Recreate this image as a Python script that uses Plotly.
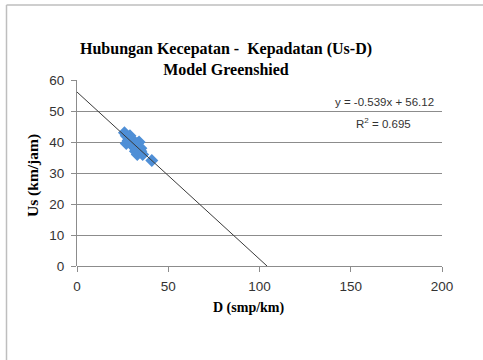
import plotly.graph_objects as go

# Observed density (smp/km) and space-mean speed (km/jam)
density = [26, 27, 28, 27, 29, 30, 31, 30, 32, 33, 34, 35, 33, 35, 41, 36, 29, 32, 28]
speed = [43, 42, 41.5, 39.5, 40, 41, 40, 39, 38, 39.5, 40, 38, 36, 37, 34, 36, 42, 37, 40.5]

# Greenshields linear fit
slope = -0.539
intercept = 56.12
r2 = 0.695
fit_x = [0, -intercept / slope]
fit_y = [slope * x + intercept for x in fit_x]

x_ticks = [0, 50, 100, 150, 200]
y_ticks = [0, 10, 20, 30, 40, 50, 60]

W, H = 483, 360
L, R, T, B = 77, 41, 80, 94
pw, ph = W - L - R, H - T - B


def px(x):
    return (x - L) / pw


def py(y):
    return (H - B - y) / ph


tick_font = dict(family="Liberation Sans Narrow, Liberation Sans, Arial", size=13.5, color="#333333")
eq_font = dict(family="Liberation Sans Narrow, Liberation Sans, Arial", size=11.5, color="#333333")
serif = "Liberation Serif, Times New Roman, serif"

fig = go.Figure()
fig.add_trace(go.Scatter(
    x=density, y=speed, mode="markers",
    marker=dict(symbol="diamond", size=10, color="#4F8FD6", line=dict(width=0)),
    showlegend=False, hoverinfo="skip",
))
fig.add_trace(go.Scatter(
    x=fit_x, y=fit_y, mode="lines",
    line=dict(color="#3a3a3a", width=1),
    showlegend=False, hoverinfo="skip",
))

fig.update_layout(
    width=W, height=H,
    margin=dict(l=L, r=R, t=T, b=B),
    paper_bgcolor="white", plot_bgcolor="white",
    title=dict(
        text="Hubungan Kecepatan -  Kepadatan (Us-D)<br>Model Greenshied",
        x=(px(80) + px(372)) / 2, xref="paper", xanchor="center",
        y=1 - 54 / H, yanchor="middle",
        font=dict(family=serif, size=16, color="black", weight="bold"),
    ),
    xaxis=dict(
        range=[0, 200], tickvals=x_ticks, showgrid=False, zeroline=False,
        showline=False, ticks="outside", ticklen=5, tickcolor="#8c8c8c",
        tickfont=tick_font, ticklabelstandoff=3,
    ),
    yaxis=dict(
        range=[0, 60], tickvals=y_ticks, showgrid=True, gridcolor="#8c8c8c", gridwidth=1,
        zeroline=True, zerolinecolor="#8c8c8c", zerolinewidth=1,
        showline=True, linecolor="#8c8c8c", linewidth=1,
        ticks="outside", ticklen=5, tickcolor="#8c8c8c", tickfont=tick_font,
        ticklabelstandoff=4,
    ),
    annotations=[
        dict(text="D (smp/km)", xref="paper", yref="paper",
             x=px(249), y=py(308), xanchor="center", yanchor="middle",
             showarrow=False, font=dict(family=serif, size=14, color="black", weight="bold")),
        dict(text="Us (km/jam)", xref="paper", yref="paper", textangle=-90,
             x=px(33), y=py(176), xanchor="center", yanchor="middle",
             showarrow=False, font=dict(family=serif, size=15.5, color="black", weight="bold")),
        dict(text="y = -0.539x + 56.12", xref="paper", yref="paper",
             x=px(436), y=py(102), xanchor="right", yanchor="middle",
             showarrow=False, font=eq_font),
        dict(text="R<sup>2</sup> = 0.695", xref="paper", yref="paper",
             x=px(383), y=py(123), xanchor="center", yanchor="middle",
             showarrow=False, font=eq_font),
    ],
    shapes=[
        dict(type="line", xref="paper", yref="paper", x0=px(6.5), x1=px(483), y0=py(5), y1=py(5),
             line=dict(color="#BEBEBE", width=1.5)),
        dict(type="line", xref="paper", yref="paper", x0=px(6.5), x1=px(6.5), y0=py(5), y1=py(360),
             line=dict(color="#BEBEBE", width=1.5)),
    ],
)

fig.write_html("out.html")
